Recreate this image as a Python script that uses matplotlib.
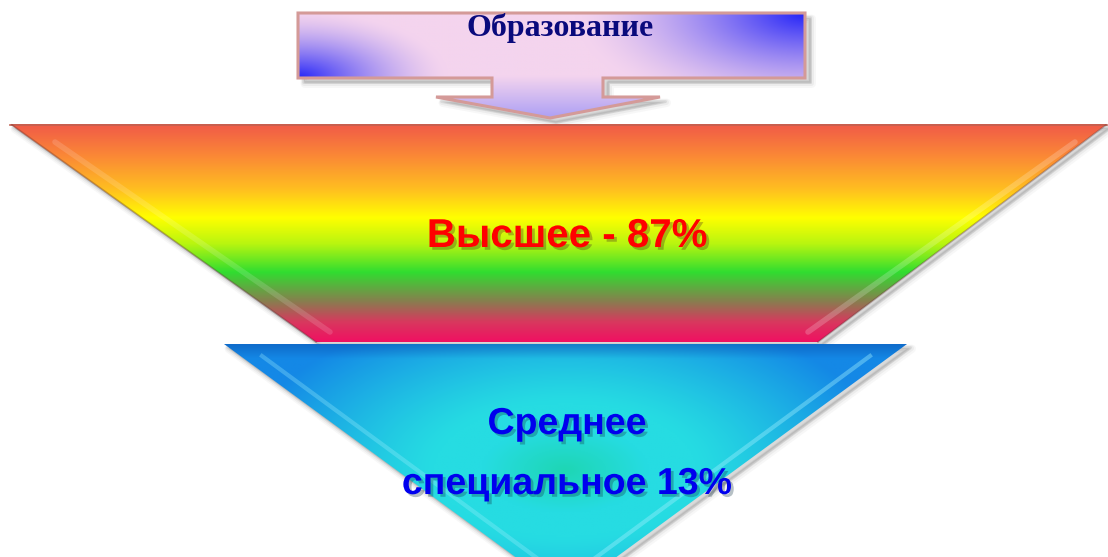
import numpy as np
import matplotlib
matplotlib.use("Agg")
import matplotlib.pyplot as plt
from matplotlib.patches import Polygon
from matplotlib.colors import LinearSegmentedColormap, to_rgb
import matplotlib.patheffects as pe

# data
title = "Образование"
levels = ["Высшее", "Среднее\nспециальное"]
shares = [87, 13]
level_colors = ["#ff0000", "#0000ee"]

W, H = 1108, 557
fig = plt.figure(figsize=(W / 100, H / 100), dpi=100)
ax = fig.add_axes([0, 0, 1, 1])
ax.set_xlim(0, W)
ax.set_ylim(H, 0)
ax.axis("off")


def grad_fill(poly, img, extent, z):
    patch = Polygon(poly, closed=True, facecolor="none", edgecolor="none", zorder=z)
    ax.add_patch(patch)
    im = ax.imshow(img, extent=extent, origin="upper", zorder=z,
                   interpolation="bilinear", aspect="auto")
    im.set_clip_path(patch)


def shadow(poly, dx, dy, z):
    for k, a in [(6, 0.04), (4, 0.06), (2, 0.1)]:
        p = np.array(poly, dtype=float) + [dx + k * 0.3, dy + k * 0.3]
        ax.add_patch(Polygon(p, closed=True, facecolor="#404040", edgecolor="#404040",
                             lw=k, alpha=a, zorder=z, joinstyle="round"))


# top callout: box + arrow
callout = [(298, 13), (805, 13), (805, 78), (603, 78), (603, 97), (660, 97),
           (550, 118), (436, 97), (492, 97), (492, 78), (298, 78)]
shadow(callout, 5, 4, 1)
x0, x1, y0, y1 = 298, 805, 13, 118
CX, CY = np.meshgrid(np.linspace(x0, x1, 400), np.linspace(y0, y1, 120))
pink = np.array(to_rgb("#f4d4ee"))
blue = np.array(to_rgb("#2424f8"))
lav = np.array(to_rgb("#b0a2f4"))
d1 = np.hypot((CX - 805) / 1.0, (CY - 13) * 2.2)
d2 = np.hypot((CX - 298) / 1.0, (CY - 78) * 2.2)
w = np.maximum(np.clip(1 - d1 / 230, 0, 1) ** 1.5, np.clip(1 - d2 / 150, 0, 1) ** 1.5)[..., None]
img_box = pink * (1 - w) + blue * w
wa = np.clip((CY - 76) / 40, 0, 1)[..., None]
img_box = img_box * (1 - wa) + lav * wa
grad_fill(callout, img_box, (x0, x1, y1, y0), 2)
ax.add_patch(Polygon(callout, closed=True, facecolor="none", edgecolor="#d49a98",
                     lw=2.2, zorder=3))
ax.text(560, 28, title, ha="center", va="center", fontsize=23, fontweight="bold",
        family="Liberation Serif", color="#0a0a7c", zorder=4)

# upper trapezoid
trap = [(10, 124), (1107, 124), (818, 342), (316, 342)]
shadow(trap, 3, 3, 1)
stops = [(0.0, "#f05a48"), (0.15, "#fb8a35"), (0.3, "#ffbf20"), (0.43, "#ffff00"),
         (0.55, "#b8f510"), (0.68, "#30dd30"), (0.82, "#8c7a50"), (0.91, "#d8385e"),
         (1.0, "#f01062")]
cm_trap = LinearSegmentedColormap.from_list("trap", stops)
gy = np.linspace(0, 1, 256)[:, None] * np.ones((1, 4))
grad_fill(trap, cm_trap(gy), (10, 1107, 342, 124), 2)
ax.plot([10, 1107], [124.5, 124.5], color="#c06050", lw=1.2, zorder=3)
# bevel highlights
ax.plot([55, 330], [142, 332], color="white", lw=4, alpha=0.14, zorder=3,
        solid_capstyle="round")
ax.plot([1075, 808], [142, 332], color="white", lw=4, alpha=0.2, zorder=3,
        solid_capstyle="round")
ax.plot([12, 316], [125, 342], color="#603030", lw=1.2, alpha=0.35, zorder=3)
ax.plot([1106, 818], [125, 342], color="#603030", lw=1.2, alpha=0.35, zorder=3)

shad_r = [pe.withSimplePatchShadow(offset=(2, -2), shadow_rgbFace="#402020", alpha=0.3)]
ax.text(567, 236, f"{levels[0]} - {shares[0]}%", ha="center", va="center",
        fontsize=29, fontweight="bold", family="Liberation Sans", color=level_colors[0],
        zorder=5, path_effects=shad_r)

# lower triangle
tri = [(224, 344), (907, 344), (566, 594)]
shadow(tri, 3, 3, 1)
tx = np.linspace(224, 907, 340)
ty = np.linspace(344, 594, 130)
TX, TY = np.meshgrid(tx, ty)
r = np.sqrt(((TX - 565) / 330.0) ** 2 + ((TY - 470) / 170.0) ** 2)
r = np.clip(r, 0, 1)
c_mid = np.array(to_rgb("#26dce2"))
c_cen = np.array(to_rgb("#1ed6b4"))
c_edge = np.array(to_rgb("#1488e6"))
w_c = np.clip(1 - r / 0.25, 0, 1)[..., None]
w_e = np.clip((r - 0.4) / 0.6, 0, 1)[..., None] ** 1.2
img = c_mid * (1 - w_e) + c_edge * w_e
img = img * (1 - w_c) + c_cen * w_c
top = np.clip(1 - (TY - 344) / 14.0, 0, 1)[..., None]
img = img * (1 - 0.5 * top) + np.array(to_rgb("#0a50b0")) * 0.5 * top
grad_fill(tri, img, (224, 907, 594, 344), 2)
ax.plot([262, 560], [356, 575], color="#a0f0ff", lw=3, alpha=0.3, zorder=3)
ax.plot([870, 572], [356, 575], color="#a0f0ff", lw=3, alpha=0.4, zorder=3)

sub1, sub2 = levels[1].split("\n")
shad = [pe.withSimplePatchShadow(offset=(2, -2), shadow_rgbFace="#103040", alpha=0.3)]
ax.text(567, 424, sub1, ha="center", va="center", fontsize=27, fontweight="bold",
        family="Liberation Sans", color=level_colors[1], zorder=5, path_effects=shad)
ax.text(567, 484, f"{sub2} {shares[1]}%", ha="center", va="center", fontsize=27,
        fontweight="bold", family="Liberation Sans", color=level_colors[1], zorder=5,
        path_effects=shad)

fig.savefig("out.png", dpi=100)
